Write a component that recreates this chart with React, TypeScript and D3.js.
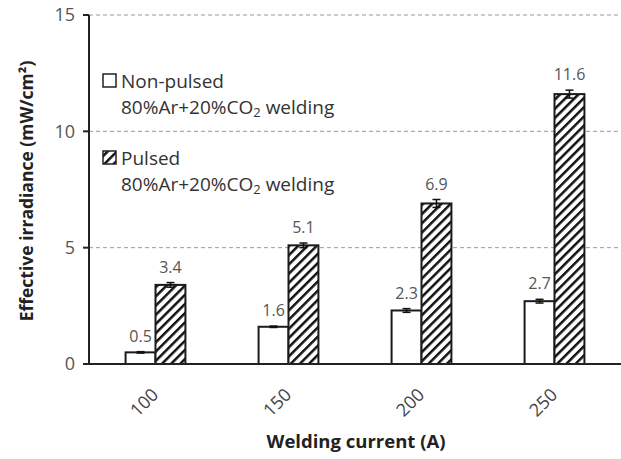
import React from 'react';
import * as d3 from 'd3';

const currents = ['100', '150', '200', '250'];
const nonPulsed = [0.5, 1.6, 2.3, 2.7];
const nonPulsedErr = [0.03, 0.03, 0.08, 0.08];
const pulsed = [3.4, 5.1, 6.9, 11.6];
const pulsedErr = [0.1, 0.1, 0.17, 0.17];
const yTicks = [0, 5, 10, 15];

const W = 621;
const H = 459;
const margin = { top: 15, right: 0, bottom: 95, left: 89 };
const FONT = '"Open Sans", sans-serif';

const App = () => {
  const x = d3.scaleBand<string>()
    .domain(currents)
    .range([margin.left, W - margin.right])
    .paddingInner(0.55)
    .paddingOuter(0.275);

  const y = d3.scaleLinear()
    .domain([0, 15])
    .range([H - margin.bottom, margin.top]);

  const bw = x.bandwidth() / 2;
  const y0 = y(0);

  const series = [
    { key: 'np', values: nonPulsed, errs: nonPulsedErr, fill: '#fff', off: 0 },
    { key: 'p', values: pulsed, errs: pulsedErr, fill: 'url(#hatch)', off: 1 },
  ];

  return (
    <svg width={W} height={H} style={{ position: 'absolute', left: 0, top: 0, background: '#fff' }}>
      <defs>
        <pattern id="hatch" width={6.5} height={6.5} patternUnits="userSpaceOnUse" patternTransform="rotate(45)">
          <rect width={6.5} height={6.5} fill="#fff" />
          <line x1={0} y1={0} x2={0} y2={6.5} stroke="#111" strokeWidth={5} />
        </pattern>
      </defs>

      {/* gridlines */}
      {yTicks.filter(t => t > 0).map(t => (
        <line key={'g' + t} x1={margin.left} x2={W} y1={y(t)} y2={y(t)}
          stroke="#999" strokeWidth={1} strokeDasharray="4,3" />
      ))}

      {/* bars */}
      {series.map(s => currents.map((c, i) => {
        const bx = (x(c) as number) + s.off * bw;
        const top = y(s.values[i]);
        return (
          <g key={s.key + c}>
            <rect x={bx} y={top} width={bw} height={y0 - top}
              fill={s.fill} stroke="#1a1a1a" strokeWidth={2} />
            <line x1={bx + bw / 2} x2={bx + bw / 2}
              y1={y(s.values[i] + s.errs[i])} y2={y(s.values[i] - s.errs[i])}
              stroke="#111" strokeWidth={1.5} />
            <line x1={bx + bw / 2 - 4} x2={bx + bw / 2 + 4}
              y1={y(s.values[i] + s.errs[i])} y2={y(s.values[i] + s.errs[i])}
              stroke="#111" strokeWidth={1.5} />
            <line x1={bx + bw / 2 - 4} x2={bx + bw / 2 + 4}
              y1={y(s.values[i] - s.errs[i])} y2={y(s.values[i] - s.errs[i])}
              stroke="#111" strokeWidth={1.5} />
            <text x={bx + bw / 2} y={y(s.values[i] + s.errs[i]) - 10}
              textAnchor="middle" fontFamily={FONT} fontSize={16} fill="#555">
              {s.values[i]}
            </text>
          </g>
        );
      }))}

      {/* axes */}
      <line x1={margin.left} x2={margin.left} y1={y(15)} y2={y0} stroke="#222" strokeWidth={2} />
      <line x1={margin.left - 6} x2={W} y1={y0} y2={y0} stroke="#222" strokeWidth={2} />
      {yTicks.map(t => (
        <g key={'t' + t}>
          <line x1={margin.left - 6} x2={margin.left} y1={y(t)} y2={y(t)} stroke="#222" strokeWidth={2} />
          <text x={margin.left - 14} y={y(t)} dy="0.35em" textAnchor="end"
            fontFamily={FONT} fontSize={18} fill="#555">{t}</text>
        </g>
      ))}
      {currents.map(c => {
        const cx = (x(c) as number) + x.bandwidth() / 2 + 4;
        return (
          <text key={'x' + c} transform={`translate(${cx},${y0 + 32}) rotate(-45)`}
            textAnchor="end" fontFamily={FONT} fontSize={18} fill="#444">{c}</text>
        );
      })}

      <text x={356} y={448} textAnchor="middle" fontFamily={FONT} fontSize={18.5}
        fontWeight="bold" fill="#222">Welding current (A)</text>
      <text transform={`translate(33,${191}) rotate(-90)`} textAnchor="middle"
        fontFamily={FONT} fontSize={17.5} fontWeight="bold" fill="#222">
        Effective irradiance (mW/cm²)
      </text>

      {/* legend */}
      <g fontFamily={FONT} fontSize={19} fill="#333">
        <rect x={103} y={74} width={13} height={13} fill="#fff" stroke="#222" strokeWidth={1.5} />
        <text x={121} y={88}>Non-pulsed</text>
        <text x={121} y={114}>80%Ar+20%CO<tspan fontSize={13} dy={3}>2</tspan><tspan dy={-3}> welding</tspan></text>
        <rect x={103} y={151} width={13} height={13} fill="url(#hatch)" stroke="#222" strokeWidth={1.5} />
        <text x={121} y={165}>Pulsed</text>
        <text x={121} y={191}>80%Ar+20%CO<tspan fontSize={13} dy={3}>2</tspan><tspan dy={-3}> welding</tspan></text>
      </g>
    </svg>
  );
};

export default App;
